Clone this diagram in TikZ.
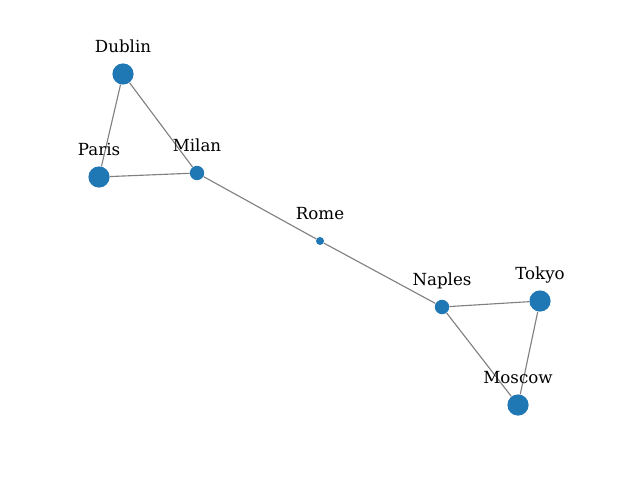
\documentclass[tikz,border=0pt]{standalone}
\usepackage{fontspec}
\setmainfont{DejaVu Serif}
\definecolor{nodeblue}{HTML}{1F77B4}
\begin{document}
\begin{tikzpicture}[city/.style={circle,fill=nodeblue,inner sep=0pt},
  big/.style={city,minimum size=0.53cm},
  mid/.style={city,minimum size=0.36cm},
  small/.style={city,minimum size=0.2cm},
  txt/.style={font=\fontsize{11.85}{14}\selectfont,anchor=center,text height=1.6ex,text depth=0.2ex},
  road/.style={draw=gray,line width=0.8pt}]
	\useasboundingbox (0,0) rectangle (16,12);
	\node[big] (dublin) at (3.075,10.15) {};
	\node[big] (paris) at (2.475,7.575) {};
	\node[mid] (milan) at (4.925,7.675) {};
	\node[small] (rome) at (8.0,5.975) {};
	\node[mid] (naples) at (11.05,4.325) {};
	\node[big] (tokyo) at (13.5,4.475) {};
	\node[big] (moscow) at (12.95,1.875) {};
	% roads
	\foreach \a/\b in {dublin/paris,dublin/milan,paris/milan,milan/rome,rome/naples,naples/tokyo,naples/moscow,tokyo/moscow}
		\draw[road] (\a) -- (\b);
	% names
	\node[txt] (dublin-l) at ([yshift=0.67cm]dublin.center) {Dublin};
	\node[txt] (paris-l) at ([yshift=0.67cm]paris.center) {Paris};
	\node[txt] (milan-l) at ([yshift=0.67cm]milan.center) {Milan};
	\node[txt] (rome-l) at ([yshift=0.67cm]rome.center) {Rome};
	\node[txt] (naples-l) at ([yshift=0.67cm]naples.center) {Naples};
	\node[txt] (tokyo-l) at ([yshift=0.67cm]tokyo.center) {Tokyo};
	\node[txt] (moscow-l) at ([yshift=0.67cm]moscow.center) {Moscow};
\end{tikzpicture}
\end{document}
